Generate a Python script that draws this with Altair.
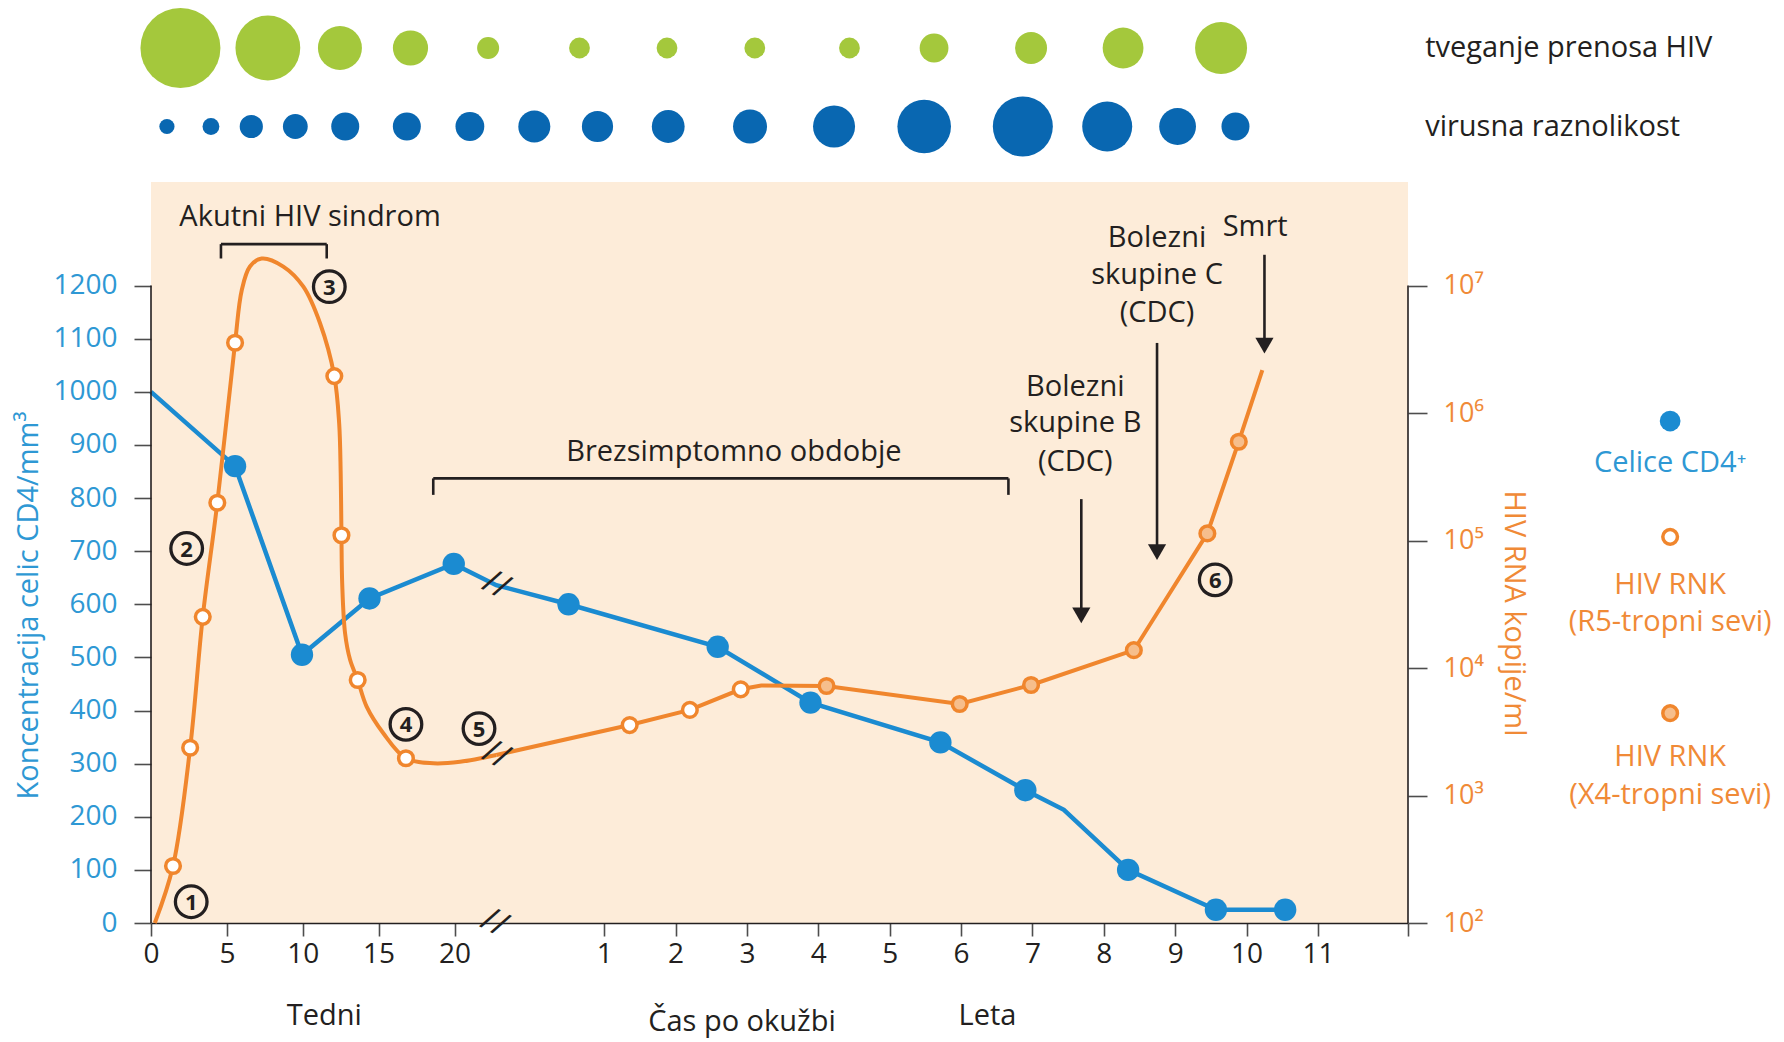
import altair as alt
import pandas as pd

# ---------------------------------------------------------------- palette
INK = "#231f20"
TICK = "#4d4d4d"
BLUE = "#1b8bd1"
BLUE_TXT = "#2e98d4"
ORANGE = "#f0862d"
ORANGE_TXT = "#f08a37"
X4_FILL = "#f6be8c"
GREEN = "#a4c83c"
NAVY = "#0967b1"
PANEL = "#fdecd9"
FONT = "Open Sans"
WPY = 52  # weeks per year on the time axis

# ---------------------------------------------------------------- data
# CD4+ cell count (cells/mm3); time in weeks ("wk") or years ("yr")
cd4_unit = ["wk"] * 6 + ["yr"] * 9
cd4_time = [0, 5.54, 9.95, 14.4, 19.95, 22.2, 0.5, 2.59, 3.89, 5.71, 6.9, 7.44, 8.34, 9.57, 10.54]
cd4_count = [1000, 860, 505, 611, 676, 636, 600, 520, 415, 340, 250, 213, 100, 25, 25]
cd4_dot = [0, 1, 1, 1, 1, 0, 1, 1, 1, 1, 1, 0, 1, 1, 1]

# HIV RNA (copies/ml) during the acute phase, in weeks
acute_weeks = [0.25, 1.45, 2.58, 3.41, 4.37, 5.54, 5.98, 6.52, 7.29, 8.72, 10.04, 11.14,
               12.08, 12.40, 12.50, 12.55, 12.60, 12.79, 13.12, 13.62, 14.21, 15.31,
               16.80, 18.60, 20.29, 22.20]
acute_copies = [100, 280, 2370, 25200, 198000, 3560000, 9200000, 14100000, 16300000,
                14100000, 9800000, 5060000, 1950000, 830000, 337000, 110000, 46000,
                18700, 11600, 8050, 4980, 3080, 1960, 1790, 1840, 2080]
acute_strain = ["", "R5", "R5", "R5", "R5", "R5", "", "", "", "", "", "",
                "R5", "", "", "R5", "", "", "", "R5", "", "", "R5", "", "", ""]

# HIV RNA (copies/ml) after the acute phase
late_unit = ["wk"] + ["yr"] * 11
late_time = [22.20, 1.357, 2.20, 2.913, 3.2, 4.115, 5.98, 6.98, 8.42, 9.45, 9.89, 10.22]
late_copies = [2080, 3570, 4690, 6810, 7300, 7230, 5220, 7360, 13800, 113700, 596000, 2170000]
late_strain = ["", "R5", "R5", "R5", "", "X4", "X4", "X4", "X4", "X4", "X4", ""]

# relative level of transmission risk and viral diversity over time
risk_unit = ["wk"] * 5 + ["yr"] * 8
risk_time = [1.94, 7.70, 12.45, 17.1, 21.77, 0.654, 1.88, 3.11, 4.436, 5.621, 6.98, 8.269, 9.642]
risk_level = [10, 8.1, 5.5, 4.4, 2.75, 2.6, 2.6, 2.6, 2.6, 3.6, 4.0, 5.1, 6.5]

div_unit = ["wk"] * 8 + ["yr"] * 9
div_time = [1.05, 3.95, 6.61, 9.51, 12.8, 16.86, 20.81, 24.2,
            0.906, 1.897, 3.043, 4.22, 5.483, 6.865, 8.047, 9.033, 9.844]
div_level = [1.9, 2.1, 2.9, 3.1, 3.5, 3.5, 3.6, 4.0, 3.9, 4.1, 4.25, 5.25, 6.7, 7.5, 6.25, 4.6, 3.5]

ROWS = ["tveganje prenosa HIV", "virusna raznolikost"]
week_ticks = [0, 5, 10, 15, 20]
year_ticks = list(range(1, 12))
cd4_ticks = list(range(0, 1201, 100))
rna_ticks = [1e2, 1e3, 1e4, 1e5, 1e6, 1e7]


def weeks(units, values):
    return [v * WPY if u == "yr" else v for u, v in zip(units, values)]


# ---------------------------------------------------------------- scales & axes
X_END = 12.26 * WPY
x_scale = alt.Scale(domain=[0, 20, 0.5 * WPY, 11 * WPY, X_END],
                    range=[0, 303.5, 417.5, 1167, 1257], nice=False, zero=False)
cd4_scale = alt.Scale(domain=[0, 1395], nice=False, zero=False)
rna_scale = alt.Scale(type="log", domain=[1e2, 10 ** (2 + 5 * 1395 / 1200)], nice=False)
row_scale = alt.Scale(type="point", domain=ROWS, range=[-134, -55.5], padding=0)
size_scale = alt.Scale(type="pow", exponent=2, domain=[0, 10], range=[0, 6400])

x_axis = alt.Axis(
    values=week_ticks + [y * WPY for y in year_ticks] + [X_END],
    labelExpr=f"datum.value <= 20 ? datum.label : (datum.value > {11.5 * WPY} ? '' : format(datum.value / {WPY}, 'd'))",
    title=None, grid=False, domainColor=INK, domainWidth=1.6, tickColor=TICK, tickWidth=1.6,
    tickSize=13, labelFont=FONT, labelFontSize=28, labelColor=INK, labelPadding=4,
    labelFlush=False, labelOverlap=False)

cd4_axis = alt.Axis(
    orient="left", values=cd4_ticks, format="d", domain=False, grid=False, tickColor=TICK,
    tickWidth=1.6, tickSize=17, labelFont=FONT, labelFontSize=28, labelColor=BLUE_TXT,
    labelPadding=17, labelFlush=False, labelOverlap=False,
    title="Koncentracija celic CD4/mm³", titleFont=FONT, titleFontSize=29,
    titleFontWeight="normal", titleColor=BLUE_TXT, titleAngle=270, titleX=-123, titleY=423,
    titleAlign="center", titleBaseline="middle")

rna_axis = alt.Axis(
    orient="right", values=rna_ticks, domain=False, grid=False, tickColor=TICK, tickWidth=1.6,
    tickSize=19, labelFont=FONT, labelFontSize=27, labelColor=ORANGE_TXT, labelPadding=16,
    labelFlush=False, labelOverlap=False,
    labelExpr="'10' + ['⁰','¹','²','³','⁴','⁵','⁶','⁷'][round(log(datum.value) / LN10)]",
    title="HIV RNA kopije/ml", titleFont=FONT, titleFontSize=29, titleFontWeight="normal",
    titleColor=ORANGE_TXT, titleAngle=90, titleX=105, titleY=431,
    titleAlign="center", titleBaseline="middle")


def X(field="t"):
    return alt.X(f"{field}:Q", scale=x_scale, axis=x_axis)


def Y_cd4(field="v", axis=None):
    return alt.Y(f"{field}:Q", scale=cd4_scale, axis=axis)


def Y_rna(field="rna"):
    return alt.Y(f"{field}:Q", scale=rna_scale, axis=rna_axis)


# ---------------------------------------------------------------- bubble rows
bub = pd.DataFrame({
    "t": weeks(risk_unit, risk_time) + weeks(div_unit, div_time),
    "row": [ROWS[0]] * len(risk_time) + [ROWS[1]] * len(div_time),
    "level": risk_level + div_level,
})
row_labels = pd.DataFrame({"t": [12.5 * WPY] * 2, "row": ROWS})

bubbles = alt.Chart(bub).mark_circle(opacity=1).encode(
    x=X(), y=alt.Y("row:N", scale=row_scale, axis=None),
    size=alt.Size("level:Q", scale=size_scale, legend=None),
    color=alt.Color("row:N", scale=alt.Scale(domain=ROWS, range=[GREEN, NAVY]), legend=None))
bubble_text = alt.Chart(row_labels).mark_text(
    align="left", baseline="middle", font=FONT, fontSize=29, color=INK).encode(
    x=X(), y=alt.Y("row:N", scale=row_scale, axis=None), text="row:N")
bubble_layer = alt.layer(bubbles, bubble_text)

# ---------------------------------------------------------------- CD4 series
cd4 = pd.DataFrame({"t": weeks(cd4_unit, cd4_time), "v": cd4_count, "dot": cd4_dot})
cd4_line = alt.Chart(cd4).mark_line(color=BLUE, strokeWidth=4.5).encode(
    x=X(), y=Y_cd4(axis=cd4_axis))
cd4_pts = alt.Chart(cd4).transform_filter("datum.dot == 1").mark_circle(
    color=BLUE, size=500, opacity=1).encode(x=X(), y=Y_cd4(axis=cd4_axis))
cd4_layer = alt.layer(cd4_line, cd4_pts)

# ---------------------------------------------------------------- HIV RNA series
acute = pd.DataFrame({"t": acute_weeks, "rna": acute_copies, "strain": acute_strain})
late = pd.DataFrame({"t": weeks(late_unit, late_time), "rna": late_copies, "strain": late_strain})
rna_marks = pd.concat([acute, late]).query("strain != ''")

rna_curve = alt.Chart(acute).mark_line(
    color=ORANGE, strokeWidth=4, interpolate="catmull-rom").encode(x=X(), y=Y_rna())
rna_poly = alt.Chart(late).mark_line(color=ORANGE, strokeWidth=4).encode(x=X(), y=Y_rna())
rna_pts = alt.Chart(rna_marks).mark_point(
    shape="circle", filled=True, size=215, stroke=ORANGE, strokeWidth=3.5, opacity=1).encode(
    x=X(), y=Y_rna(),
    fill=alt.Fill("strain:N", scale=alt.Scale(domain=["R5", "X4"], range=["#ffffff", X4_FILL]),
                  legend=None))
rna_layer = alt.layer(rna_curve, rna_poly, rna_pts)

# ---------------------------------------------------------------- annotations (CD4 units)
axis_lines = pd.DataFrame({"t": [0, X_END], "t2": [0, X_END], "v": [0, 0], "v2": [1200, 1200]})

seg_t = [4.61, 4.61, 11.58, 18.6, 18.6, 6.663 * WPY, 7.684 * WPY, 8.745 * WPY, 10.25 * WPY]
seg_t2 = [11.58, 4.61, 11.58, 6.663 * WPY, 18.6, 6.663 * WPY, 7.684 * WPY, 8.745 * WPY, 10.25 * WPY]
seg_v = [1278, 1278, 1278, 837, 837, 837, 798, 1092, 1258]
seg_v2 = [1278, 1251, 1251, 837, 806, 806, 580, 699, 1088]
segs = pd.DataFrame({"t": seg_t, "t2": seg_t2, "v": seg_v, "v2": seg_v2})

heads = pd.DataFrame({"t": [7.684 * WPY, 8.745 * WPY, 10.25 * WPY], "v": [579, 698, 1087]})

labels = pd.DataFrame({
    "t": [10.48, 2.817 * WPY, 7.60 * WPY, 7.60 * WPY, 7.60 * WPY,
          8.745 * WPY, 8.745 * WPY, 8.745 * WPY, 10.12 * WPY,
          11.42, 2.93 * WPY, 6.37 * WPY],
    "v": [1329, 887, 1010, 941, 868, 1289, 1220, 1148, 1311, -175, -186, -175],
    "label": ["Akutni HIV sindrom", "Brezsimptomno obdobje", "Bolezni", "skupine B", "(CDC)",
              "Bolezni", "skupine C", "(CDC)", "Smrt", "Tedni", "Čas po okužbi", "Leta"],
})

steps = pd.DataFrame({
    "t": [2.65, 2.35, 11.75, 16.8, 21.29, 9.56 * WPY],
    "v": [40, 705, 1198, 374, 366, 646],
    "n": ["1", "2", "3", "4", "5", "6"],
})

breaks = pd.DataFrame({"t": [22.1, 22.2, 22.2], "v": [0, 636, 316]})

LEG_T = 15.93 * WPY
legend_marks = pd.DataFrame({"t": [LEG_T] * 3, "v": [945, 727, 395], "kind": ["cd4", "R5", "X4"]})
legend_blue = pd.DataFrame({"t": [LEG_T], "v": [866], "label": ["Celice CD4⁺"]})
legend_orange = pd.DataFrame({"t": [LEG_T] * 4, "v": [636, 567, 312, 241],
                              "label": ["HIV RNK", "(R5-tropni sevi)", "HIV RNK", "(X4-tropni sevi)"]})

ann = [
    alt.Chart(axis_lines).mark_rule(color=INK, strokeWidth=1.6).encode(
        x=X(), x2="t2:Q", y=Y_cd4(), y2="v2:Q"),
    alt.Chart(segs).mark_rule(color=INK, strokeWidth=2.6).encode(
        x=X(), x2="t2:Q", y=Y_cd4(), y2="v2:Q"),
    alt.Chart(heads).mark_point(shape="triangle-down", filled=True, size=330, color=INK,
                                opacity=1).encode(x=X(), y=Y_cd4()),
    alt.Chart(labels).mark_text(font=FONT, fontSize=29, color=INK, baseline="middle").encode(
        x=X(), y=Y_cd4(), text="label:N"),
    alt.Chart(steps).mark_point(shape="circle", filled=False, size=1000, stroke=INK,
                                strokeWidth=3.3, opacity=1).encode(x=X(), y=Y_cd4()),
    alt.Chart(steps).mark_text(font=FONT, fontSize=22, fontWeight="bold", color=INK,
                               baseline="middle", dy=1).encode(x=X(), y=Y_cd4(), text="n:N"),
    alt.Chart(breaks).mark_text(text="//", font=FONT, fontSize=34, color=INK, angle=28,
                                baseline="middle").encode(x=X(), y=Y_cd4()),
    alt.Chart(legend_marks).transform_filter("datum.kind == 'cd4'").mark_circle(
        color=BLUE, size=430, opacity=1).encode(x=X(), y=Y_cd4()),
    alt.Chart(legend_marks).transform_filter("datum.kind != 'cd4'").mark_point(
        shape="circle", size=215, stroke=ORANGE, strokeWidth=3.5, opacity=1, filled=True).encode(
        x=X(), y=Y_cd4(),
        fill=alt.Fill("kind:N", scale=alt.Scale(domain=["R5", "X4"], range=["#ffffff", X4_FILL]),
                      legend=None)),
    alt.Chart(legend_blue).mark_text(font=FONT, fontSize=29, color=BLUE_TXT, baseline="middle").encode(
        x=X(), y=Y_cd4(), text="label:N"),
    alt.Chart(legend_orange).mark_text(font=FONT, fontSize=29, color=ORANGE_TXT, baseline="middle").encode(
        x=X(), y=Y_cd4(), text="label:N"),
]
ann_layer = alt.layer(*ann)

chart = (
    alt.layer(bubble_layer, cd4_layer, rna_layer, ann_layer)
    .resolve_scale(y="independent")
    .properties(
        width=1257, height=741,
        padding={"left": 151, "top": 182, "right": 376, "bottom": 119},
        autosize=alt.AutoSizeParams(type="none"),
        background="white",
    )
    .configure_view(fill=PANEL, stroke=None)
)

chart.save("out.html", embed_options={"renderer": "svg", "actions": False})
